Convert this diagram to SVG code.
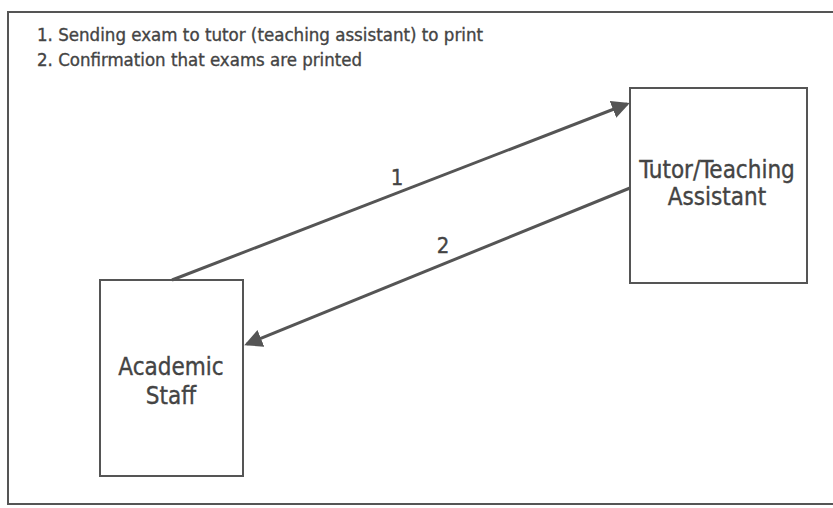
<svg xmlns="http://www.w3.org/2000/svg" width="833" height="508" viewBox="0 0 833 508">
<style>
.frame{fill:none;stroke:#555;stroke-width:2}
.box{fill:#fff;stroke:#555;stroke-width:2}
.conn{fill:none;stroke:#555;stroke-width:3}
.t{font-family:"DejaVu Sans Condensed","DejaVu Sans",sans-serif;fill:#444;stroke:#444;stroke-width:0.35}
.note{font-size:18.5px}
.lbl{font-size:24px;text-anchor:middle}
.num{font-size:22px;text-anchor:middle}
</style>
<defs>
<marker id="ah" markerWidth="6" markerHeight="6" refX="5" refY="3" orient="auto" markerUnits="strokeWidth">
<path d="M0,0 L6,3 L0,6 z" fill="#555"/>
</marker>
</defs>
<rect width="833" height="508" fill="#fff"/>
<rect class="frame" x="8" y="12" width="830" height="492"/>
<g id="notes">
<text class="t note" x="37" y="41" textLength="446" lengthAdjust="spacingAndGlyphs">1.  Sending exam to tutor (teaching assistant) to print</text>
<text class="t note" x="37" y="66" textLength="325" lengthAdjust="spacingAndGlyphs">2.  Confirmation that exams are printed</text>
</g>
<g id="node-academic">
<rect class="box" x="100" y="280" width="143" height="196"/>
<text class="t lbl" x="171" y="375">Academic</text>
<text class="t lbl" x="171" y="404">Staff</text>
</g>
<g id="node-tutor">
<rect class="box" x="630" y="88" width="177" height="195"/>
<text class="t lbl" x="717" y="178">Tutor/Teaching</text>
<text class="t lbl" x="717" y="205">Assistant</text>
</g>
<g id="connectors">
<line class="conn" x1="172" y1="280" x2="627" y2="104" marker-end="url(#ah)"/>
<line class="conn" x1="630" y1="188" x2="247" y2="344" marker-end="url(#ah)"/>
<text class="t num" x="397" y="185">1</text>
<text class="t num" x="443" y="253">2</text>
</g>
</svg>
